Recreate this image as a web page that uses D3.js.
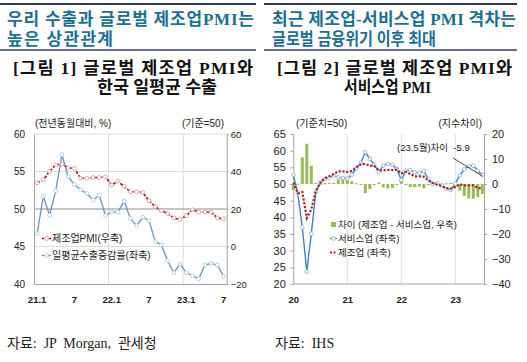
<!DOCTYPE html>
<html>
<head>
<meta charset="utf-8">
<script src="https://cdn.jsdelivr.net/npm/d3@7"></script>
<style>
  body { margin: 0; background: #fff; }
  text { font-family: "Liberation Sans", "Noto Sans CJK KR", sans-serif; }
  .ttl { font-family: "Liberation Serif", "Noto Sans CJK KR", serif; font-weight: bold; }
  .src { font-family: "Liberation Serif", "Noto Sans CJK KR", serif; }
</style>
</head>
<body>
<svg id="chart" width="527" height="362"></svg>
<script>
// ---- figure 1 data (21.1 ~ 23.7)
var months1 = ["21.1","21.2","21.3","21.4","21.5","21.6","21.7","21.8","21.9","21.10","21.11","21.12",
               "22.1","22.2","22.3","22.4","22.5","22.6","22.7","22.8","22.9","22.10","22.11","22.12",
               "23.1","23.2","23.3","23.4","23.5","23.6","23.7"];
var pmi1 = [53.5,53.9,55.0,55.9,56.0,55.5,55.4,54.1,54.1,54.2,54.2,54.3,
            53.2,53.7,53.0,52.3,52.3,52.2,51.1,50.3,49.8,49.4,48.8,48.6,
            49.1,49.9,49.6,49.6,49.6,48.8,48.7];
var export1 = [6.8,26.8,16.7,29.8,49.0,37.2,33.0,30.3,28.3,24.8,27.3,16.5,
               18.4,18.3,24.2,15.0,11.1,15.6,13.8,2.6,0.8,-7.6,-14.0,-9.3,
               -14.0,-15.6,-17.3,-9.9,-9.0,-9.9,-16.0];
var tickMonths1 = ["21.1","21.7","22.1","22.7","23.1","23.7"];
var tickLabels1 = ["21.1","7","22.1","7","23.1","7"];

// ---- figure 2 data (20.1 ~ 23.7)
var months2 = ["20.1","20.2","20.3","20.4","20.5","20.6","20.7","20.8","20.9","20.10","20.11","20.12",
               "21.1","21.2","21.3","21.4","21.5","21.6","21.7","21.8","21.9","21.10","21.11","21.12",
               "22.1","22.2","22.3","22.4","22.5","22.6","22.7","22.8","22.9","22.10","22.11","22.12",
               "23.1","23.2","23.3","23.4","23.5","23.6","23.7"];
var mfg2 = [50.4,47.2,47.6,39.8,42.4,47.9,50.3,51.8,52.3,53.0,53.8,53.8,
            53.6,53.9,55.0,55.9,56.0,55.5,55.4,54.1,54.1,54.2,54.2,54.3,
            53.2,53.7,53.0,52.3,52.3,52.2,51.1,50.3,49.8,49.4,48.8,48.6,
            49.1,49.9,49.6,49.6,49.6,48.8,48.7];
var svc2 = [52.8,47.1,37.0,23.7,35.1,47.5,50.5,51.5,51.9,52.5,52.0,51.8,
            51.6,52.8,54.7,56.3,59.6,57.5,55.8,53.5,55.5,56.0,55.8,54.5,
            51.2,54.0,54.2,53.5,53.4,53.9,51.5,50.0,50.2,49.6,48.5,48.2,
            50.1,52.6,54.4,55.4,55.5,54.0,52.7];
var gap2 = [-2.4,0.1,10.6,16.1,7.3,0.4,-0.2,0.3,0.4,0.5,1.8,2.0,
            2.0,1.1,0.3,-0.4,-3.6,-2.0,-0.4,0.6,-1.4,-1.8,-1.6,-0.2,
            2.0,-0.3,-1.2,-1.2,-1.1,-1.7,-0.4,0.3,-0.4,-0.2,0.3,0.4,
            -1.0,-2.7,-4.8,-5.8,-5.9,-5.2,-4.0];
var yearTicks2 = ["20.1","21.1","22.1","23.1"];
var yearLabels2 = ["20","21","22","23"];

var svg = d3.select("#chart");
svg.append("rect").attr("width",527).attr("height",362).attr("fill","#fff");

// stretch or squeeze a text to the width it has in the original
function fitText(sel, w) {
  var n = sel.node().getComputedTextLength();
  sel.attr("textLength", w).attr("lengthAdjust", n > w ? "spacingAndGlyphs" : "spacing");
}

// ---- header blocks
var teal = "#1a7090", navy = "#2c3a55";
function header(x0, x1, t1, t2) {
  svg.append("line").attr("x1",x0).attr("x2",x1).attr("y1",4).attr("y2",4)
    .attr("stroke",navy).attr("stroke-width",2.2);
  svg.append("line").attr("x1",x0).attr("x2",x1).attr("y1",50).attr("y2",50)
    .attr("stroke",navy).attr("stroke-width",1.4);
  [[t1.a, 25, t1.wa], [t1.b, 45, t1.wb]].forEach(function(r) {
    var t = svg.append("text").attr("x",t1.x).attr("y",r[1]).text(r[0])
      .attr("font-size",17).attr("font-weight","bold").attr("fill",teal)
      .style("font-family","'Liberation Serif','Noto Sans CJK KR',serif");
    fitText(t, r[2]);
  });
  [[t2.a, t2.x1, 74, t2.wa], [t2.b, t2.x2, 93, t2.wb]].forEach(function(r) {
    var t = svg.append("text").attr("class","ttl").attr("x",r[1]).attr("y",r[2]).text(r[0])
      .attr("font-size",17.5).attr("fill","#111");
    fitText(t, r[3]);
  });
}
header(0, 256, {x:7, a:"우리 수출과 글로벌 제조업PMI는", b:"높은 상관관계", wa:247, wb:106},
       {x1:13, x2:97, a:"[그림 1] 글로벌 제조업 PMI와", b:"한국 일평균 수출", wa:240, wb:120});
header(264, 517, {x:272, a:"최근 제조업-서비스업 PMI 격차는", b:"글로벌 금융위기 이후 최대", wa:244, wb:164},
       {x1:277, x2:344, a:"[그림 2] 글로벌 제조업 PMI와", b:"서비스업 PMI", wa:235, wb:87});

// ================= figure 1 =================
var g1 = svg.append("g");
var x1 = d3.scaleBand().domain(months1).range([34, 226.7]);
var yL1 = d3.scaleLinear().domain([40, 60]).range([284, 134]);
var yR1 = d3.scaleLinear().domain([-20, 60]).range([284, 134]);
var cx1 = function(m) { return x1(m) + x1.bandwidth() / 2; };

// gridlines
g1.selectAll(".hg").data([45, 55, 60]).enter().append("line")
  .attr("x1",34).attr("x2",226.7).attr("y1",d => yL1(d)).attr("y2",d => yL1(d))
  .attr("stroke","#dcdcdc").attr("stroke-width",1);
g1.selectAll(".vg").data(["22.1","23.1"]).enter().append("line")
  .attr("x1",d => x1(d)).attr("x2",d => x1(d)).attr("y1",134).attr("y2",284)
  .attr("stroke","#dcdcdc").attr("stroke-width",1);
g1.append("line").attr("x1",34).attr("x2",226.7).attr("y1",yL1(50)).attr("y2",yL1(50))
  .attr("stroke","#8c8c8c").attr("stroke-width",1);

// axes
var axL1 = g1.append("g").attr("transform","translate(34,0)")
  .call(d3.axisLeft(yL1).tickValues([40,45,50,55,60]).tickSize(0).tickPadding(9).tickSizeOuter(0));
var axR1 = g1.append("g").attr("transform","translate(226.7,0)")
  .call(d3.axisRight(yR1).tickValues([-20,0,20,40,60]).tickSize(2).tickPadding(2).tickSizeOuter(0));
var axB1 = g1.append("g").attr("transform","translate(0,284)")
  .call(d3.axisBottom(x1).tickValues(tickMonths1)
    .tickFormat(d => tickLabels1[tickMonths1.indexOf(d)]).tickSize(0).tickPadding(12).tickSizeOuter(0));
[axL1, axR1, axB1].forEach(function(a) {
  a.select(".domain").attr("stroke","#a6a6a6");
  a.selectAll(".tick line").attr("stroke","#a6a6a6");
  a.selectAll("text").attr("fill","#222").attr("font-size",10)
    .style("font-family","'Liberation Sans',sans-serif");
});
axR1.selectAll("text").attr("font-size",9.5);
axB1.selectAll("text").attr("font-weight","bold").attr("font-size",9.5);

// export line (right scale)
var lineExp = d3.line().x((d,i) => cx1(months1[i])).y(d => yR1(d));
g1.append("path").datum(export1).attr("d",lineExp).attr("fill","none")
  .attr("stroke","#6a91b7").attr("stroke-width",1.3);
g1.selectAll(".pe").data(export1).enter().append("circle")
  .attr("cx",(d,i) => cx1(months1[i])).attr("cy",d => yR1(d)).attr("r",1.9)
  .attr("fill","#fff").attr("stroke","#b3c9de").attr("stroke-width",0.9);

// PMI line (left scale)
var linePmi = d3.line().x((d,i) => cx1(months1[i])).y(d => yL1(d));
g1.append("path").datum(pmi1).attr("d",linePmi).attr("fill","none")
  .attr("stroke","#8e1b22").attr("stroke-width",1.7).attr("stroke-dasharray","3,1.5");
g1.selectAll(".pp").data(pmi1).enter().append("circle")
  .attr("cx",(d,i) => cx1(months1[i])).attr("cy",d => yL1(d)).attr("r",1.9)
  .attr("fill","#fff").attr("stroke","#e39a9f").attr("stroke-width",0.9);

// unit labels
g1.append("text").attr("x",35).attr("y",127).text("(전년동월대비, %)")
  .attr("font-size",10).attr("fill","#222");
g1.append("text").attr("x",224).attr("y",127).attr("text-anchor","end").text("(기준=50)")
  .attr("font-size",10).attr("fill","#222");

// legend
var leg1 = [
  {name:"제조업PMI(우축)", line:"#8e1b22", dash:"2,1.5", mk:"#e39a9f", y:238.5},
  {name:"일평균수출증감률(좌축)", line:"#6a91b7", dash:null, mk:"#b3c9de", y:255.5}
];
leg1.forEach(function(l) {
  g1.append("line").attr("x1",42).attr("x2",51).attr("y1",l.y).attr("y2",l.y)
    .attr("stroke",l.line).attr("stroke-width",1.3).attr("stroke-dasharray",l.dash);
  g1.append("circle").attr("cx",46.5).attr("cy",l.y).attr("r",1.9)
    .attr("fill","#fff").attr("stroke",l.mk).attr("stroke-width",0.9);
  g1.append("text").attr("x",52).attr("y",l.y).attr("dy","0.36em").text(l.name)
    .attr("font-size",10).attr("fill","#222");
});

// ================= figure 2 =================
var g2 = svg.append("g");
var x2 = d3.scalePoint().domain(months2).range([293.3, 482.3]);
var yL2 = d3.scaleLinear().domain([20, 65]).range([284, 134]);
var yR2 = d3.scaleLinear().domain([-40, 20]).range([284, 134]);

g2.selectAll(".vg").data(yearTicks2.slice(1)).enter().append("line")
  .attr("x1",d => x2(d)).attr("x2",d => x2(d)).attr("y1",134).attr("y2",284)
  .attr("stroke","#e2e2e2").attr("stroke-width",1);

var axL2 = g2.append("g").attr("transform","translate(293.3,0)")
  .call(d3.axisLeft(yL2).tickValues(d3.range(20, 66, 5)).tickSize(3).tickPadding(4.5).tickSizeOuter(0));
var axR2 = g2.append("g").attr("transform","translate(484,0)")
  .call(d3.axisRight(yR2).tickValues(d3.range(-40, 21, 10)).tickSize(3).tickPadding(5).tickSizeOuter(0));
var axB2 = g2.append("g").attr("transform","translate(0,284)")
  .call(d3.axisBottom(x2).tickValues(yearTicks2)
    .tickFormat(d => yearLabels2[yearTicks2.indexOf(d)]).tickSize(0).tickPadding(12).tickSizeOuter(0));
axB2.select(".domain").attr("d","M293.3,0H484");
[axL2, axR2, axB2].forEach(function(a) {
  a.select(".domain").attr("stroke","#a6a6a6");
  a.selectAll(".tick line").attr("stroke","#a6a6a6");
  a.selectAll("text").attr("fill","#222").attr("font-size",11)
    .style("font-family","'Liberation Sans',sans-serif");
});
axB2.selectAll("text").attr("font-weight","bold").attr("font-size",9.5);

// gap bars (right scale)
g2.selectAll(".bar").data(gap2).enter().append("rect")
  .attr("x",(d,i) => x2(months2[i]) - 1.5).attr("width",3)
  .attr("y",d => Math.min(yR2(d), yR2(0)))
  .attr("height",d => Math.max(1, Math.abs(yR2(d) - yR2(0))))
  .attr("fill","#9bbb59");

// services (left scale)
var lineSvc = d3.line().x((d,i) => x2(months2[i])).y(d => yL2(d));
g2.append("path").datum(svc2).attr("d",lineSvc).attr("fill","none")
  .attr("stroke","#3f84c1").attr("stroke-width",1.4);
g2.selectAll(".ps").data(svc2).enter().append("circle")
  .attr("cx",(d,i) => x2(months2[i])).attr("cy",d => yL2(d)).attr("r",1.8)
  .attr("fill","#fff").attr("stroke","#8fb5d9").attr("stroke-width",0.9);

// manufacturing (left scale)
var lineMfg = d3.line().x((d,i) => x2(months2[i])).y(d => yL2(d));
g2.append("path").datum(mfg2).attr("d",lineMfg).attr("fill","none")
  .attr("stroke","#a3262c").attr("stroke-width",2.2).attr("stroke-dasharray","2.2,1.6");

// unit labels
g2.append("text").attr("x",296).attr("y",127).text("(기준치=50)").attr("font-size",10).attr("fill","#222");
g2.append("text").attr("x",482).attr("y",127).attr("text-anchor","end").text("(지수차이)").attr("font-size",10).attr("fill","#222");

// annotation
g2.append("text").attr("x",397).attr("y",151).text("(23.5월)차이  -5.9")
  .attr("font-size",9.5).attr("fill","#222").style("white-space","pre");
g2.append("line").attr("x1",453).attr("y1",158).attr("x2",x2("23.7")).attr("y2",176)
  .attr("stroke","#333").attr("stroke-width",0.9);

// legend
g2.append("rect").attr("x",331).attr("y",222).attr("width",5).attr("height",5).attr("fill","#9bbb59");
g2.append("text").attr("x",338).attr("y",224.5).attr("dy","0.36em").text("차이 (제조업 - 서비스업, 우축)")
  .attr("font-size",9.5).attr("fill","#222");
g2.append("line").attr("x1",330).attr("x2",337).attr("y1",238.5).attr("y2",238.5)
  .attr("stroke","#3f84c1").attr("stroke-width",1.3);
g2.append("circle").attr("cx",333.5).attr("cy",238.5).attr("r",1.8)
  .attr("fill","#fff").attr("stroke","#8fb5d9").attr("stroke-width",0.9);
g2.append("text").attr("x",338).attr("y",238.5).attr("dy","0.36em").text("서비스업 (좌축)")
  .attr("font-size",9.5).attr("fill","#222");
g2.append("line").attr("x1",330).attr("x2",337).attr("y1",252.5).attr("y2",252.5)
  .attr("stroke","#a3262c").attr("stroke-width",2).attr("stroke-dasharray","2,1.5");
g2.append("text").attr("x",338).attr("y",252.5).attr("dy","0.36em").text("제조업 (좌축)")
  .attr("font-size",9.5).attr("fill","#222");

// sources
svg.append("text").attr("class","src").attr("x",7).attr("y",348).text("자료:  JP  Morgan,  관세청")
  .attr("font-size",14).attr("fill","#222").style("white-space","pre");
svg.append("text").attr("class","src").attr("x",275).attr("y",348).text("자료:  IHS")
  .attr("font-size",14).attr("fill","#222").style("white-space","pre");
</script>
</body>
</html>
